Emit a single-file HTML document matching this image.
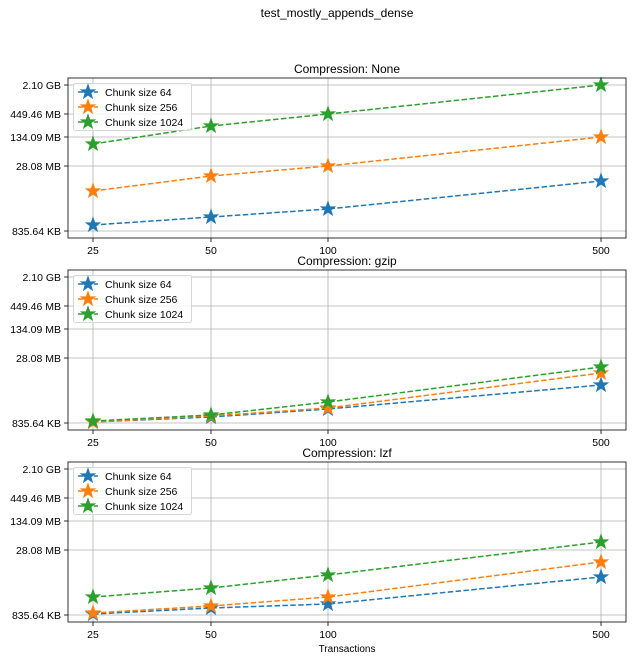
<!DOCTYPE html><html><head><style>body{margin:0;background:#fff}svg{display:block;font-family:"Liberation Sans","DejaVu Sans",sans-serif}</style></head><body>
<svg id="s" width="633" height="660" xmlns="http://www.w3.org/2000/svg"></svg>
<script>
const s=document.getElementById('s');let h='';
h+='<text x="337" y="17" font-size="12" text-anchor="middle">test_mostly_appends_dense</text>';
const xs=[93,211,328,601],xl=['25','50','100','500'];
const P=[{t:78,title:'None',d:[[225,217,209,181],[191,176,166,137],[144,126,114,85]]},
{t:270,title:'gzip',d:[[422,417,409,385],[422,416,408,373],[421,415,402,367]]},
{t:462,title:'lzf',d:[[614,608,604,577],[613,606,597,562],[597,588,575,542]]}];
const off=[7,36,59,88,153],yl=['2.10 GB','449.46 MB','134.09 MB','28.08 MB','835.64 KB'];
const C=['#1f77b4','#ff7f0e','#2ca02c'],L=['Chunk size 64','Chunk size 256','Chunk size 1024'];
function star(x,y,c){let p=[];for(let i=0;i<10;i++){let r=i%2?3:7.5,a=-Math.PI/2+i*Math.PI/5;p.push((x+r*Math.cos(a)).toFixed(1)+','+(y+r*Math.sin(a)).toFixed(1));}return `<polygon points="${p.join(' ')}" fill="${c}" stroke="${c}" stroke-width="0.8"/>`;}
P.forEach(p=>{const t=p.t,b=t+160;
h+=`<text x="347" y="${t-5}" font-size="12" text-anchor="middle">Compression: ${p.title}</text>`;
xs.forEach((x,i)=>{h+=`<line x1="${x}" x2="${x}" y1="${t}" y2="${b}" stroke="#b0b0b0" stroke-width="0.8"/><line x1="${x}" x2="${x}" y1="${b}" y2="${b+4}" stroke="#000" stroke-width="0.8"/><text x="${x}" y="${b+16}" font-size="10.5" text-anchor="middle">${xl[i]}</text>`;});
off.forEach((o,i)=>{const y=t+o;h+=`<line x1="68" x2="626" y1="${y}" y2="${y}" stroke="#b0b0b0" stroke-width="0.8"/><line x1="64" x2="68" y1="${y}" y2="${y}" stroke="#000" stroke-width="0.8"/><text x="61" y="${y+4}" font-size="10.5" text-anchor="end">${yl[i]}</text>`;});
p.d.forEach((d,k)=>{h+=`<polyline points="${d.map((y,i)=>xs[i]+','+y).join(' ')}" fill="none" stroke="${C[k]}" stroke-width="1.5" stroke-dasharray="5.5,2.4"/>`;d.forEach((y,i)=>h+=star(xs[i],y,C[k]));});
h+=`<rect x="68" y="${t}" width="558" height="160" fill="none" stroke="#000" stroke-width="0.8"/>`;
h+=`<rect x="73.5" y="${t+5.5}" width="118" height="47" rx="2" fill="#fff" fill-opacity="0.8" stroke="#ccc" stroke-width="0.8"/>`;
L.forEach((l,k)=>{const y=t+14+k*15;h+=`<line x1="78" x2="98" y1="${y}" y2="${y}" stroke="${C[k]}" stroke-width="1.5" stroke-dasharray="5.5,2.4"/>`+star(88,y,C[k])+`<text x="105" y="${y+4}" font-size="10.5">${l}</text>`;});
});
h+='<text x="347" y="652" font-size="10" text-anchor="middle">Transactions</text>';
s.innerHTML=h;
</script></body></html>
